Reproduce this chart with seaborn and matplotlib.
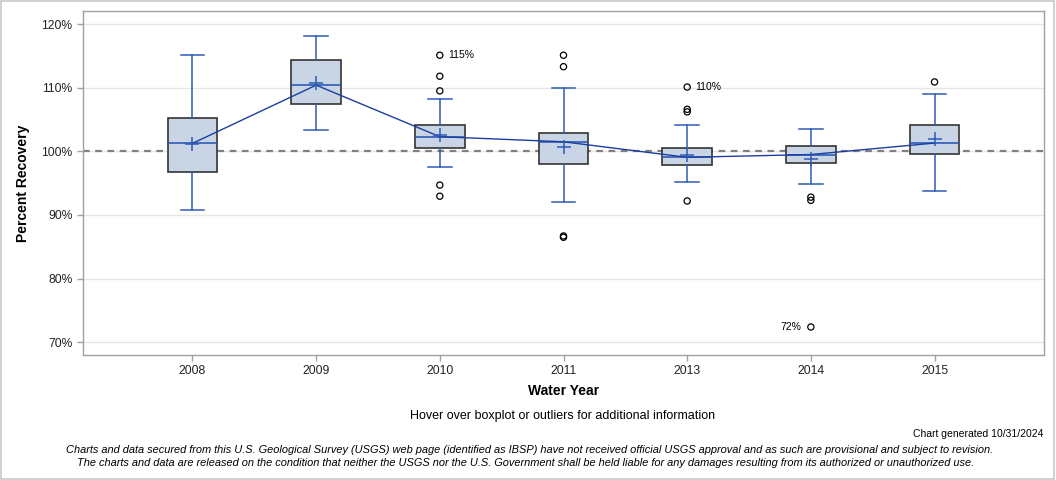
import seaborn as sns
import matplotlib.pyplot as plt
import pandas as pd

# values (percent recovery)
years = ['2008', '2009', '2010', '2011', '2013', '2014', '2015']
whisker_lo = [90.8, 103.4, 97.6, 92.05, 95.25, 94.9, 93.8]
q1 = [96.8, 107.5, 100.6, 98.0, 97.9, 98.2, 99.6]
medians = [101.25, 110.4, 102.3, 101.5, 99.06, 99.5, 101.3]
means = [101.1, 110.7, 102.5, 100.7, 99.5, 98.8, 101.9]
q3 = [105.2, 114.3, 104.1, 102.9, 100.6, 100.8, 104.1]
whisker_hi = [115.1, 118.1, 108.3, 109.9, 104.2, 103.5, 109.0]

outlier_year = ['2010', '2010', '2010', '2010', '2010',
                '2011', '2011', '2011', '2011',
                '2013', '2013', '2013', '2013',
                '2014', '2014', '2014',
                '2015']
outlier_val = [115.1, 111.8, 109.5, 94.7, 92.95,
               115.1, 113.3, 86.7, 86.5,
               110.1, 106.6, 106.2, 92.2,
               92.8, 92.3, 72.4,
               110.9]
labelled = {('2010', 115.1): '115%', ('2013', 110.1): '110%', ('2014', 72.4): '72%'}

box_fill = '#c9d5e5'
blue = '#2f5bb7'
line_blue = '#1a3fa0'

plt.rcParams['font.family'] = ['Liberation Sans', 'DejaVu Sans']
fig = plt.figure(figsize=(10.56, 4.8), dpi=100)
ax = fig.add_axes([83 / 1056, 1 - 355 / 480, (1044 - 83) / 1056, (355 - 11) / 480])

pos = list(range(len(years)))
stats = []
for i, y in enumerate(years):
    stats.append({'med': medians[i], 'q1': q1[i], 'q3': q3[i],
                  'whislo': whisker_lo[i], 'whishi': whisker_hi[i],
                  'mean': means[i], 'fliers': [], 'label': y})
ax.bxp(stats, positions=pos, widths=0.4, patch_artist=True, showmeans=False,
       boxprops=dict(facecolor=box_fill, edgecolor='#333333', linewidth=1.2),
       medianprops=dict(color=blue, linewidth=1.2),
       whiskerprops=dict(color=blue, linewidth=1.1),
       capprops=dict(color=blue, linewidth=1.1),
       capwidths=0.19, zorder=3)

df_med = pd.DataFrame({'x': pos, 'median': medians, 'mean': means})
sns.lineplot(data=df_med, x='x', y='median', ax=ax, color=line_blue, linewidth=1.0, zorder=4)
sns.scatterplot(data=df_med, x='x', y='mean', ax=ax, marker='+', s=100, color=blue,
                linewidth=1.1, zorder=5)

df_out = pd.DataFrame({'x': [years.index(y) for y in outlier_year], 'val': outlier_val})
sns.scatterplot(data=df_out, x='x', y='val', ax=ax, marker='o', s=20,
                facecolor='none', edgecolor='black', linewidth=0.9, zorder=5)
for (yr, v), txt in labelled.items():
    xi = years.index(yr)
    if txt == '72%':
        ax.annotate(txt, (xi, v), xytext=(-7, 0), textcoords='offset points',
                    ha='right', va='center', fontsize=7.5)
    else:
        ax.annotate(txt, (xi, v), xytext=(6, 0), textcoords='offset points',
                    ha='left', va='center', fontsize=7.5)

ax.axhline(100, color='#808080', linestyle=(0, (3, 2.5)), linewidth=1.6, zorder=2)

ax.set_xlim(-0.885, 6.885)
ax.set_ylim(68, 122.05)
ax.set_xticks(pos)
ax.set_xticklabels(years)
ax.set_yticks([70, 80, 90, 100, 110, 120])
ax.set_yticklabels(['70%', '80%', '90%', '100%', '110%', '120%'])
ax.yaxis.grid(True, color='#e6e6e6', linewidth=1.0, zorder=0)
ax.set_axisbelow(True)
ax.tick_params(axis='both', labelsize=8.7, length=4, width=1, colors='#222222')
ax.tick_params(axis='both', color='#a0a0a0')
for s in ax.spines.values():
    s.set_color('#a0a0a0')
    s.set_linewidth(1.0)
ax.set_xlabel('Water Year', fontsize=10, fontweight='bold', labelpad=5)
ax.set_ylabel('Percent Recovery', fontsize=10, fontweight='bold', labelpad=8)

fig.text(563 / 1056, 1 - 416 / 480, 'Hover over boxplot or outliers for additional information',
         ha='center', va='center', fontsize=9)
fig.text(1043 / 1056, 1 - 434 / 480, 'Chart generated 10/31/2024', ha='right', va='center',
         fontsize=7.5, family=['Liberation Sans Narrow', 'Liberation Sans', 'DejaVu Sans'])
fig.text(530 / 1056, 1 - 450 / 480,
         'Charts and data secured from this U.S. Geological Survey (USGS) web page (identified as IBSP) have not received official USGS approval and as such are provisional and subject to revision.',
         ha='center', va='center', fontsize=7.93, style='italic',
         family=['Liberation Sans Narrow', 'Liberation Sans', 'DejaVu Sans'])
fig.text(526 / 1056, 1 - 463 / 480,
         'The charts and data are released on the condition that neither the USGS nor the U.S. Government shall be held liable for any damages resulting from its authorized or unauthorized use.',
         ha='center', va='center', fontsize=7.93, style='italic',
         family=['Liberation Sans Narrow', 'Liberation Sans', 'DejaVu Sans'])

border = plt.Rectangle((0.001, 0.002), 0.997, 0.996, transform=fig.transFigure,
                       fill=False, edgecolor='#c8c8c8', linewidth=1.2)
fig.patches.append(border)

fig.savefig('out.png', dpi=100)
